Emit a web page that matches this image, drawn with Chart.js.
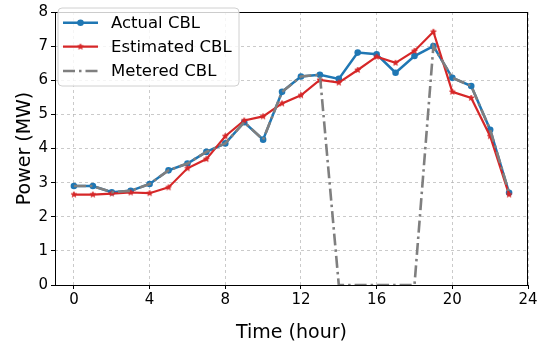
<!DOCTYPE html>
<html><head><meta charset="utf-8">
<script src="https://cdn.jsdelivr.net/npm/chart.js@4"></script>
<style>html,body{margin:0;padding:0;background:#fff}</style>
</head><body>
<canvas id="c" width="548" height="351"></canvas>
<script>
const hours = [0,1,2,3,4,5,6,7,8,9,10,11,12,13,14,15,16,17,18,19,20,21,22,23];
const actual = [2.90,2.90,2.72,2.76,2.96,3.36,3.56,3.90,4.15,4.77,4.26,5.66,6.11,6.16,6.04,6.81,6.76,6.22,6.71,7.00,6.07,5.83,4.55,2.70];
const estimated = [2.65,2.65,2.68,2.71,2.69,2.86,3.42,3.69,4.36,4.82,4.94,5.32,5.56,6.01,5.93,6.30,6.69,6.51,6.86,7.42,5.66,5.48,4.36,2.65];
const metered = [2.90,2.90,2.72,2.76,2.96,3.36,3.56,3.90,4.15,4.77,4.26,5.66,6.11,6.16,0,0,0,0,0,7.00,6.07,5.83,4.55,2.70];
const xTicks = [0,4,8,12,16,20,24];
const yTicks = [0,1,2,3,4,5,6,7,8];
const seriesNames = ['Actual CBL','Estimated CBL','Metered CBL'];

const BLUE = '#1f77b4', RED = '#d62728', GRAY = '#7f7f7f';
const FONT = "'DejaVu Sans', sans-serif";

function starCanvas(color, R) {
  const s = Math.ceil(R * 2 + 2);
  const c = document.createElement('canvas');
  c.width = s; c.height = s;
  const g = c.getContext('2d');
  const cx = s / 2, cy = s / 2, r = R * 0.42;
  g.beginPath();
  for (let i = 0; i < 10; i++) {
    const a = -Math.PI / 2 + i * Math.PI / 5;
    const rr = i % 2 === 0 ? R : r;
    const px = cx + rr * Math.cos(a), py = cy + rr * Math.sin(a);
    if (i === 0) g.moveTo(px, py); else g.lineTo(px, py);
  }
  g.closePath();
  g.fillStyle = color; g.fill();
  g.lineWidth = 0.8; g.strokeStyle = color; g.stroke();
  return c;
}
const redStar = starCanvas(RED, 3);

const toPts = arr => hours.map((h, i) => ({x: h, y: arr[i]}));

const datasets = [
  {label: seriesNames[0], data: toPts(actual), borderColor: BLUE, backgroundColor: BLUE,
   borderWidth: 2.5, pointRadius: 3.3, pointStyle: 'circle', pointBorderWidth: 0, order: 3, tension: 0},
  {label: seriesNames[1], data: toPts(estimated), borderColor: RED, backgroundColor: RED,
   borderWidth: 2.2, pointStyle: redStar, pointRadius: 3, order: 2, tension: 0},
  {label: seriesNames[2], data: toPts(metered), borderColor: GRAY, backgroundColor: GRAY,
   borderWidth: 2.6, borderDash: [12, 4, 2.5, 4], pointRadius: 0, order: 1, tension: 0}
];

const framePlugin = {
  id: 'frame',
  afterDraw(chart) {
    const {ctx, chartArea: a} = chart;
    ctx.save();
    ctx.strokeStyle = '#000'; ctx.lineWidth = 1;
    ctx.strokeRect(Math.round(a.left) + 0.5, Math.round(a.top) + 0.5,
      Math.round(a.right - a.left) - 1 + 0, Math.round(a.bottom - a.top) - 0);
    // legend
    const bx = 58, by = 8, bw = 181, bh = 78, rad = 4;
    ctx.beginPath();
    ctx.moveTo(bx + rad, by);
    ctx.arcTo(bx + bw, by, bx + bw, by + bh, rad);
    ctx.arcTo(bx + bw, by + bh, bx, by + bh, rad);
    ctx.arcTo(bx, by + bh, bx, by, rad);
    ctx.arcTo(bx, by, bx + bw, by, rad);
    ctx.closePath();
    ctx.fillStyle = 'rgba(255,255,255,0.8)'; ctx.fill();
    ctx.strokeStyle = '#d0d0d0'; ctx.lineWidth = 1; ctx.stroke();
    const rows = [22.7, 46.7, 71];
    ctx.font = "16.5px " + FONT;
    ctx.textBaseline = 'middle'; ctx.textAlign = 'left';
    chart.data.datasets.forEach((ds, i) => {
      const y = rows[i];
      ctx.save();
      ctx.strokeStyle = ds.borderColor; ctx.lineWidth = ds.borderWidth;
      ctx.setLineDash(ds.borderDash || []);
      ctx.beginPath(); ctx.moveTo(63, y); ctx.lineTo(98, y); ctx.stroke();
      ctx.restore();
      if (i === 0) {
        ctx.beginPath(); ctx.arc(80.5, y, 3.3, 0, Math.PI * 2);
        ctx.fillStyle = BLUE; ctx.fill();
      } else if (i === 1) {
        ctx.drawImage(redStar, 80.5 - redStar.width / 2, y - redStar.height / 2);
      }
      ctx.fillStyle = '#000';
      ctx.fillText(ds.label, 111, y + 1);
    });
    ctx.restore();
  }
};

new Chart(document.getElementById('c'), {
  type: 'line',
  data: {datasets},
  plugins: [framePlugin],
  options: {
    responsive: false,
    animation: false,
    devicePixelRatio: 1,
    layout: {padding: {top: 7, right: 20, left: 0, bottom: 0}},
    plugins: {legend: {display: false}, tooltip: {enabled: false}},
    scales: {
      x: {
        type: 'linear', min: -1, max: 24,
        afterBuildTicks: s => { s.ticks = xTicks.map(v => ({value: v})); },
        afterFit: s => { s.height = 66; },
        ticks: {font: {family: FONT, size: 15}, color: '#000', padding: 2, maxRotation: 0, autoSkip: false},
        grid: {color: 'rgba(176,176,176,0.85)', lineWidth: 0.8, tickColor: '#000', tickLength: 4, tickWidth: 1, tickBorderDash: []},
        border: {display: false, dash: [3, 3]},
        title: {display: true, text: 'Time (hour)', font: {family: FONT, size: 19}, color: '#000', padding: {top: 0, bottom: 6.5}}
      },
      y: {
        type: 'linear', min: 0, max: 8,
        afterBuildTicks: s => { s.ticks = yTicks.map(v => ({value: v})); },
        afterFit: s => { s.width = 55; },
        ticks: {font: {family: FONT, size: 15}, color: '#000', padding: 3},
        grid: {color: 'rgba(176,176,176,0.85)', lineWidth: 0.8, tickColor: '#000', tickLength: 4, tickWidth: 1, tickBorderDash: []},
        border: {display: false, dash: [3, 3]},
        title: {display: true, text: 'Power (MW)', font: {family: FONT, size: 19}, color: '#000', padding: {top: 14, bottom: 0}}
      }
    }
  }
});
</script>
</body></html>
